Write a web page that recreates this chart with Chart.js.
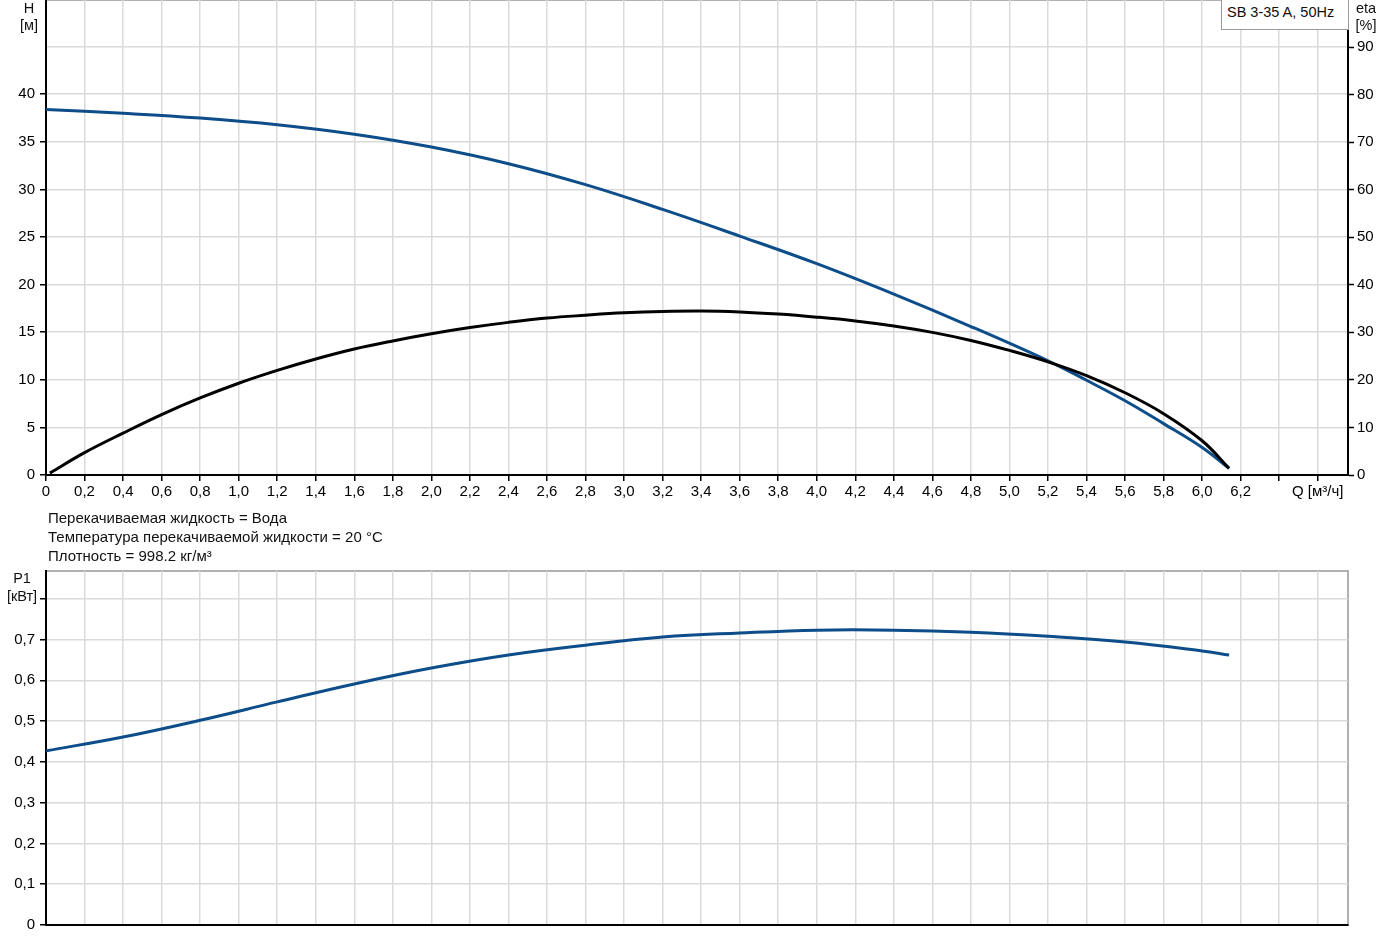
<!DOCTYPE html>
<html lang="ru">
<head>
<meta charset="UTF-8">
<title>SB 3-35 A, 50Hz</title>
<script src="https://cdn.jsdelivr.net/npm/chart.js@4.4.0/dist/chart.umd.min.js"></script>
<style>
    body {
        margin: 0;
        background: white;
        font-family: Arial, "Liberation Sans", sans-serif;
        font-size: 15px;
        color: #111;
    }
    #page { position: relative; width: 1385px; height: 951px; overflow: hidden; }
    canvas { position: absolute; left: 0; }
    .lbl { position: absolute; line-height: 17px; white-space: nowrap; font-size: 14.5px; }
    .c { transform: translateX(-50%); text-align: center; }
    #legend {
        position: absolute; left: 1221px; top: -1px; width: 121px; height: 29px;
        border: 1px solid #9a9a9a; background: white; padding-left: 5px;
        line-height: 24px; box-sizing: content-box; font-size: 14.5px;
    }
    #notes { position: absolute; left: 48px; top: 508px; line-height: 19px; }
</style>
</head>
<body>
<div id="page">
    <canvas id="topChart" width="1385" height="505" style="top:0"></canvas>
    <canvas id="bottomChart" width="1385" height="391" style="top:560px"></canvas>

    <div class="lbl c" style="left:29px; top:0px">H</div>
    <div class="lbl c" style="left:29px; top:17px">[м]</div>
    <div class="lbl c" style="left:1366px; top:0px">eta</div>
    <div class="lbl c" style="left:1366px; top:17px">[%]</div>
    <div id="legend">SB 3-35 A, 50Hz</div>

    <div id="notes">
        Перекачиваемая жидкость = Вода<br>
        Температура перекачиваемой жидкости = 20 °C<br>
        Плотность = 998.2 кг/м³
    </div>

    <div class="lbl c" style="left:22px; top:570px">P1</div>
    <div class="lbl c" style="left:22px; top:588px">[кВт]</div>
</div>

<script>
    // flow axis ticks (m3/h)
    const qTicks = [0, 0.2, 0.4, 0.6, 0.8, 1.0, 1.2, 1.4, 1.6, 1.8, 2.0, 2.2, 2.4, 2.6, 2.8, 3.0,
        3.2, 3.4, 3.6, 3.8, 4.0, 4.2, 4.4, 4.6, 4.8, 5.0, 5.2, 5.4, 5.6, 5.8, 6.0, 6.2, 6.4, 6.6];
    const hTicks = [0, 5, 10, 15, 20, 25, 30, 35, 40, 45];
    const etaTicks = [0, 10, 20, 30, 40, 50, 60, 70, 80, 90];
    const pTicks = [0, 0.1, 0.2, 0.3, 0.4, 0.5, 0.6, 0.7, 0.8];

    // head curve
    const qHead = [0, 0.4, 0.8, 1.2, 1.6, 2.0, 2.4, 2.8, 3.2, 3.6, 4.0, 4.4, 4.8, 5.2, 5.4, 5.6, 5.8, 6.0, 6.14];
    const head = [38.4, 38.0, 37.5, 36.8, 35.8, 34.45, 32.7, 30.5, 27.9, 25.1, 22.2, 19.0, 15.6,
        12.0, 9.95, 7.8, 5.4, 2.9, 0.7];

    // efficiency curve
    const qEta = [0.02, 0.2, 0.4, 0.6, 0.8, 1.0, 1.2, 1.4, 1.6, 1.8, 2.0, 2.2, 2.4, 2.6, 2.8, 3.0,
        3.2, 3.4, 3.6, 3.8, 4.0, 4.2, 4.4, 4.6, 4.8, 5.0, 5.2, 5.4, 5.6, 5.8, 6.0, 6.14];
    const eta = [0.4, 4.7, 8.8, 12.7, 16.2, 19.3, 22.0, 24.4, 26.5, 28.2, 29.7, 31.0, 32.1, 33.0, 33.6, 34.1,
        34.4, 34.5, 34.3, 33.85, 33.2, 32.4, 31.35, 30.0, 28.3, 26.2, 23.8, 20.9, 17.3, 12.9, 7.2, 1.4];

    // power curve
    const qPower = [0, 0.4, 0.8, 1.2, 1.6, 2.0, 2.4, 2.8, 3.2, 3.6, 4.0, 4.4, 4.8, 5.2, 5.6, 6.0, 6.14];
    const power = [0.427, 0.461, 0.502, 0.547, 0.591, 0.630, 0.662, 0.686, 0.706, 0.716, 0.723, 0.723,
        0.718, 0.708, 0.694, 0.672, 0.662];

    const blue = "#0d4d8a";
    const gridColor = "#dadada";
    const font = { family: "Arial, 'Liberation Sans', sans-serif", size: 15 };

    function pts(xs, ys) { return xs.map((x, i) => ({ x: x, y: ys[i] })); }
    function fixedTicks(values) { return scale => { scale.ticks = values.map(v => ({ value: v })); }; }
    function comma(v) { return v.toFixed(1).replace(".", ","); }
    function hideTick(limit) {
        return ctx => (ctx.tick && ctx.tick.value > limit) ? "rgba(0,0,0,0)" : "#000";
    }
    function fitWidth(w) {
        return s => { s.width = w; s.paddingTop = 0; s.paddingBottom = 0; };
    }

    const frame = {
        id: "frame",
        beforeDraw(chart) {
            const a = chart.chartArea, c = chart.ctx;
            c.save();
            c.strokeStyle = "#b0b0b0";
            c.lineWidth = 2;
            c.strokeRect(a.left, a.top, a.right - a.left, a.bottom - a.top);
            c.restore();
        }
    };

    Chart.defaults.color = "#000";
    Chart.defaults.font = font;

    const line = (data, color, axis) => ({
        data: data, borderColor: color, borderWidth: 3, showLine: true,
        pointRadius: 0, tension: 0.4, yAxisID: axis
    });

    new Chart(document.getElementById("topChart"), {
        type: "scatter",
        data: {
            datasets: [
                line(pts(qEta, eta), "#000", "y2"),
                line(pts(qHead, head), blue, "y")
            ]
        },
        options: {
            responsive: false,
            animation: false,
            layout: { autoPadding: false, padding: { top: 0 } },
            plugins: { legend: { display: false }, tooltip: { enabled: false } },
            scales: {
                x: {
                    type: "linear", min: 0, max: 6.757,
                    afterBuildTicks: fixedTicks(qTicks),
                    afterFit: s => { s.height = 30; s.paddingLeft = 0; s.paddingRight = 0; },
                    grid: { color: gridColor, lineWidth: 1.5, tickLength: 6, tickColor: "#000", tickWidth: 1.5 },
                    border: { color: "#000", width: 2 },
                    ticks: {
                        autoSkip: false, maxRotation: 0, padding: 2,
                        callback: v => v <= 6.25 ? (v === 0 ? "0" : comma(v)) : (v > 6.5 ? "Q [м³/ч]" : "")
                    }
                },
                y: {
                    position: "left", min: 0, max: 49.9,
                    afterBuildTicks: fixedTicks(hTicks),
                    afterFit: fitWidth(46),
                    grid: { color: gridColor, lineWidth: 1.5, tickLength: 6, tickColor: hideTick(40), tickWidth: 1.5 },
                    border: { color: "#000", width: 2 },
                    ticks: { padding: 5, callback: v => v <= 40 ? String(v) : "" }
                },
                y2: {
                    position: "right", min: 0, max: 99.9,
                    afterBuildTicks: fixedTicks(etaTicks),
                    afterFit: fitWidth(37),
                    grid: { drawOnChartArea: false, tickLength: 6, tickColor: "#000", tickWidth: 1.5 },
                    border: { color: "#000", width: 2 },
                    ticks: { padding: 3, callback: v => String(v) }
                }
            }
        },
        plugins: [frame]
    });

    new Chart(document.getElementById("bottomChart"), {
        type: "scatter",
        data: {
            datasets: [line(pts(qPower, power), blue, "y")]
        },
        options: {
            responsive: false,
            animation: false,
            layout: { autoPadding: false, padding: { top: 11, right: 37 } },
            plugins: { legend: { display: false }, tooltip: { enabled: false } },
            scales: {
                x: {
                    type: "linear", min: 0, max: 6.757,
                    afterBuildTicks: fixedTicks(qTicks),
                    afterFit: s => { s.height = 26; s.paddingLeft = 0; s.paddingRight = 0; },
                    grid: { color: gridColor, lineWidth: 1.5, drawTicks: false },
                    border: { color: "#000", width: 2 },
                    ticks: { display: false }
                },
                y: {
                    position: "left", min: 0, max: 0.868,
                    afterBuildTicks: fixedTicks(pTicks),
                    afterFit: fitWidth(46),
                    grid: { color: gridColor, lineWidth: 1.5, tickLength: 6, tickColor: "#000", tickWidth: 1.5 },
                    border: { color: "#000", width: 2 },
                    ticks: { padding: 5, callback: v => v === 0 ? "0" : (v < 0.75 ? comma(v) : "") }
                }
            }
        },
        plugins: [frame]
    });
</script>
</body>
</html>
